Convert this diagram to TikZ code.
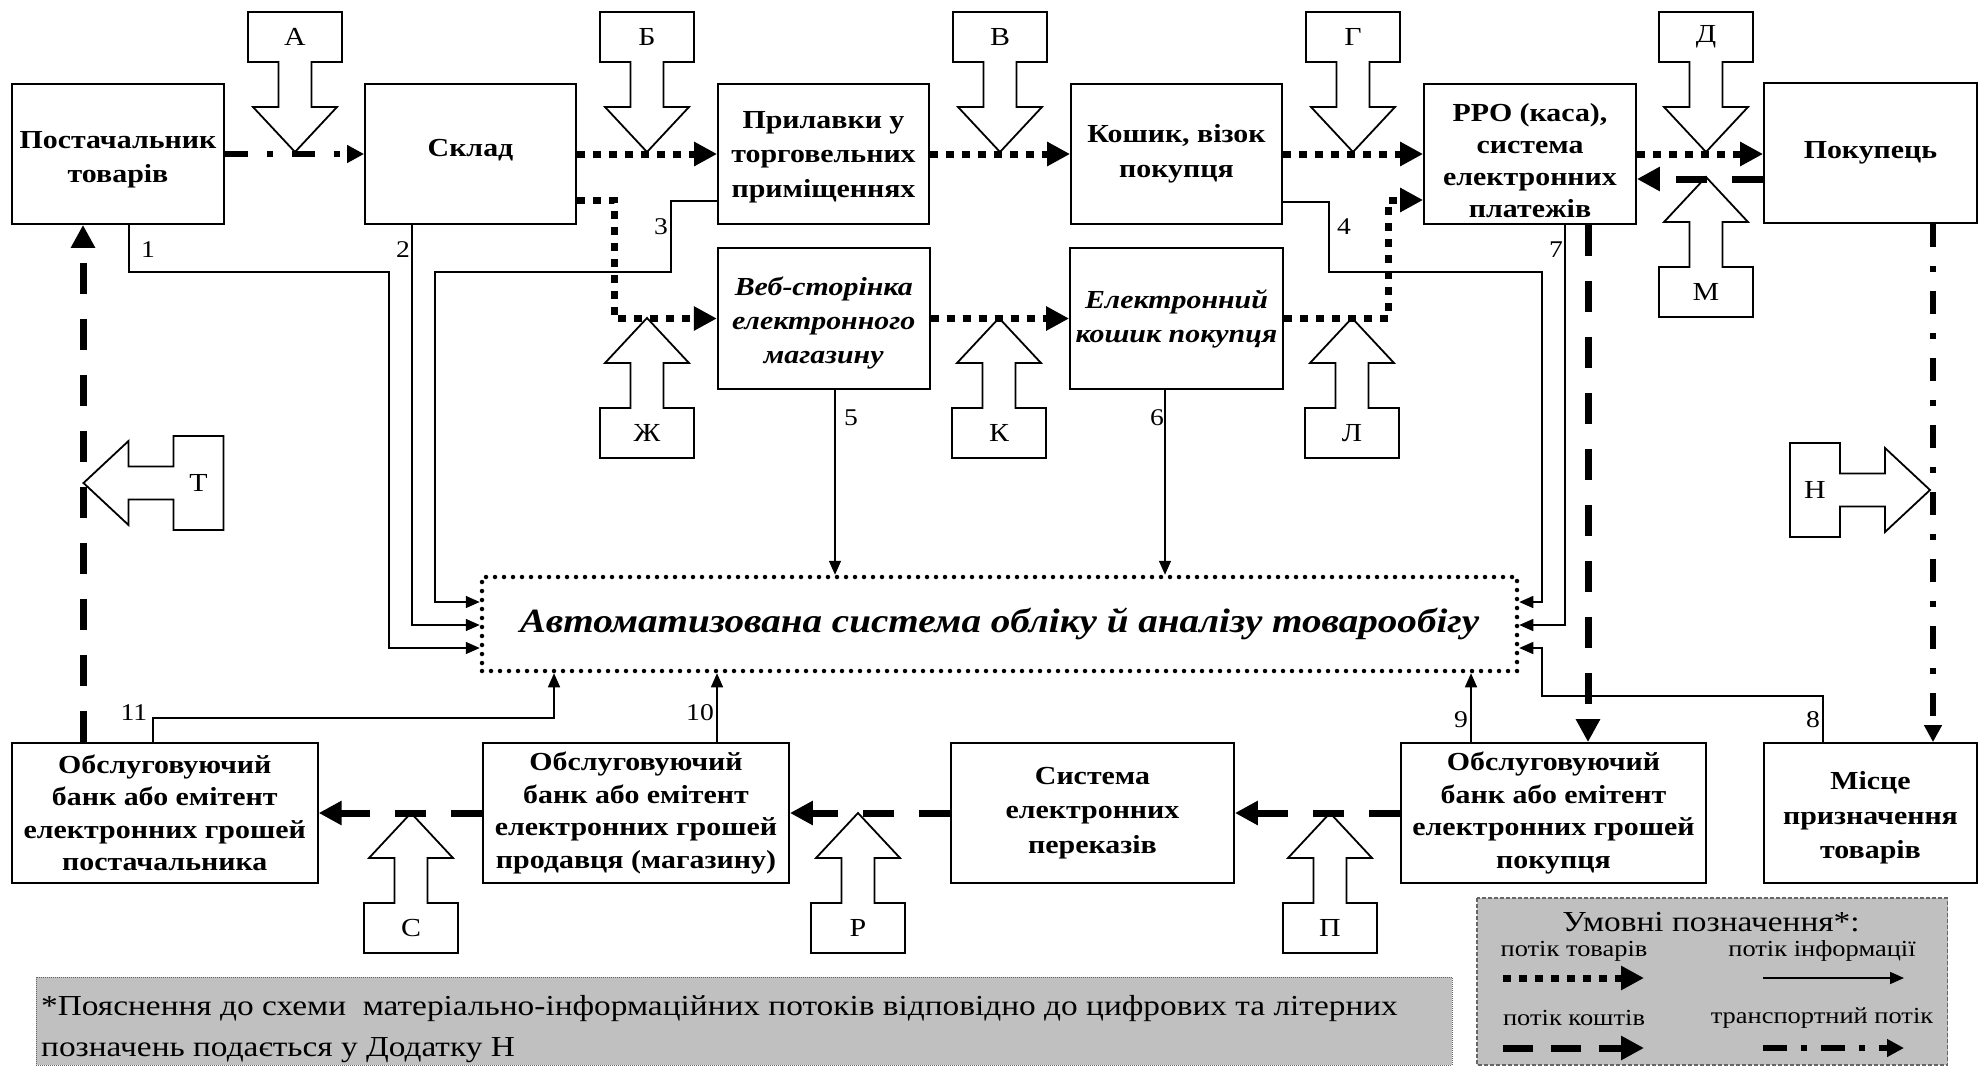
\documentclass[tikz,border=0pt]{standalone}
\usepackage{fontspec}
\setmainfont{Liberation Serif}[FakeStretch=1.15]
\usetikzlibrary{arrows.meta}
\definecolor{panelgrey}{RGB}{192,192,192}

% Block arrow ("gate") with a lettered tail box; tip at (#2,#3), rotated by #4
\newcommand\flowgate[5]{%
  \begin{scope}[shift={(#2,#3)}, rotate=#4]
    \draw[gate] (0,0) -- (42,-45) -- (16.5,-45) -- (16.5,-90) -- (47,-90) -- (47,-140)
      -- (-47,-140) -- (-47,-90) -- (-16.5,-90) -- (-16.5,-45) -- (-42,-45) -- cycle;
    \node[gatelabel] (#1) at (0,-115) {#5};
  \end{scope}}

\begin{document}
\begin{tikzpicture}[x=1pt,y=-1pt,
  box/.style={draw, line width=1.8pt, fill=white, align=center, inner sep=0pt,
    minimum height=140pt, font=\fontsize{26}{34.5}\selectfont\bfseries},
  ibox/.style={box, font=\fontsize{26}{34}\selectfont\bfseries\itshape},
  bankbox/.style={box, font=\fontsize{26}{32.5}\selectfont\bfseries},
  frame/.style={draw, line width=1.8pt, fill=white, inner sep=0pt, minimum height=140pt},
  boxtext/.style={align=center, inner sep=0pt, font=\fontsize{26}{34.5}\selectfont\bfseries},
  mainbox/.style={draw, line width=4.5pt, dash pattern=on 0pt off 9pt, line cap=round,
    minimum width=1035pt, minimum height=94pt, inner sep=0pt,
    font=\fontsize{34}{40}\selectfont\bfseries\itshape},
  gate/.style={draw, line width=1.8pt, fill=white, line join=miter},
  gatelabel/.style={font=\fontsize{26}{26}\selectfont, inner sep=0pt},
  numlabel/.style={font=\fontsize{24}{24}\selectfont, inner sep=0pt},
  goods/.style={line width=7pt, dash pattern=on 8pt off 8pt,
    -{Triangle[length=23pt,width=23pt]}},
  money/.style={line width=7pt, dash pattern=on 31pt off 25pt,
    -{Triangle[length=23pt,width=23pt]}},
  transport/.style={line width=6pt, dash pattern=on 23pt off 19pt on 6pt off 19pt,
    -{Triangle[length=17pt,width=17pt]}},
  info/.style={line width=1.5pt, -{Triangle[length=14pt,width=12pt]}},
  notepanel/.style={fill=panelgrey, draw=black!60, line width=1pt, dash pattern=on 1pt off 1pt},
  legendpanel/.style={fill=panelgrey, draw=black!60, line width=1.2pt, dash pattern=on 4pt off 2pt},
  notetext/.style={font=\fontsize{29}{41}\selectfont, align=left, inner sep=0pt},
  legendtitle/.style={font=\fontsize{29}{29}\selectfont, inner sep=0pt},
  legendtext/.style={font=\fontsize{23}{23}\selectfont, inner sep=0pt}
]
\useasboundingbox (0,0) rectangle (1984,1066);
\fill[white] (0,0) rectangle (1984,1066);

% ---- block arrows with letters
\flowgate{gA}{295}{152}{0}{А}
\flowgate{gB}{647}{152}{0}{Б}
\flowgate{gV}{1000}{152}{0}{В}
\flowgate{gG}{1353}{152}{0}{Г}
\flowgate{gD}{1706}{152}{0}{Д}
\flowgate{gZh}{647}{318}{180}{Ж}
\flowgate{gK}{999}{318}{180}{К}
\flowgate{gL}{1352}{318}{180}{Л}
\flowgate{gM}{1706}{177}{180}{М}
\flowgate{gS}{411}{813}{180}{С}
\flowgate{gR}{858}{813}{180}{Р}
\flowgate{gP}{1330}{813}{180}{П}
\flowgate{gT}{83.5}{483}{-90}{Т}
\flowgate{gN}{1930}{490}{90}{Н}

% ---- top row
\node[frame, minimum width=212pt] (post)  at (118,154)    {};
\node[boxtext] (posttext) at (118,160) {Постачальник\\товарів};
\node[frame, minimum width=211pt] (sklad) at (470.5,154)  {};
\node[boxtext] (skladtext) at (470.5,150) {Склад};
\node[frame, minimum width=211pt] (prylav) at (823.5,154) {};
\node[boxtext] (prylavtext) at (823.5,157) {Прилавки у\\торговельних\\приміщеннях};
\node[box, minimum width=211pt] (koshyk)  at (1176.5,154) {Кошик, візок\\покупця};
\node[frame, minimum width=212pt] (rro)   at (1530,154)   {};
\node[align=center, inner sep=0pt, font=\fontsize{26}{32}\selectfont\bfseries] (rrotext)
  at (1530,161) {РРО (каса),\\система\\електронних\\платежів};
\node[box, minimum width=213pt] (pokup)   at (1870.5,153) {Покупець};

% ---- e-commerce row
\node[frame, minimum width=212pt, minimum height=141pt] (web) at (823.75,318.5) {};
\node[boxtext, font=\fontsize{26}{34}\selectfont\bfseries\itshape] (webtext) at (823.75,322.5) {Веб-сторінка\\електронного\\магазину};
\node[ibox, minimum width=213pt, minimum height=141pt] (ekosh) at (1176.5,318.5) {Електронний\\кошик покупця};

% ---- accounting system
\node[mainbox] (main) at (999.5,624) {Автоматизована система обліку й аналізу товарообігу};

% ---- bottom row
\node[bankbox, minimum width=306pt] (bank1) at (164.75,813) {Обслуговуючий\\банк або емітент\\електронних грошей\\постачальника};
\node[bankbox, minimum width=306pt] (bank2) at (636,813) {Обслуговуючий\\банк або емітент\\електронних грошей\\продавця (магазину)};
\node[box, minimum width=283pt] (sep) at (1092.5,813) {Система\\електронних\\переказів};
\node[bankbox, minimum width=305pt] (bank3) at (1553.5,813) {Обслуговуючий\\банк або емітент\\електронних грошей\\покупця};
\node[frame, minimum width=213pt] (misce) at (1870.5,813) {};
\node[boxtext] (miscetext) at (1870.5,818) {Місце\\призначення\\товарів};

% ---- information flows
\draw[info] (post.south -| 129,0) |- (389,272) |- (main.west |- 0,648);
\draw[info] (sklad.south -| 412,0) |- (main.west |- 0,625);
\draw[info] (prylav.west |- 0,201) -| (671,272) -| (435,602) -- (main.west |- 0,602);
\draw[info] (koshyk.east |- 0,202) -| (1329,272) -| (1542,602) -- (main.east |- 0,602);
\draw[info] (web.south -| 835,0) -- (main.north -| 835,0);
\draw[info] (ekosh.south -| 1165,0) -- (main.north -| 1165,0);
\draw[info] (rro.south -| 1565,0) |- (main.east |- 0,625);
\draw[info] (misce.north -| 1823,0) |- (1542,696) |- (main.east |- 0,648);
\draw[info] (bank3.north -| 1471,0) -- (main.south -| 1471,0);
\draw[info] (bank2.north -| 717,0) -- (main.south -| 717,0);
\draw[info] (bank1.north -| 153,0) |- (554,718) -- (main.south -| 554,0);

\node[numlabel] (n1)  at (148,250)  {1};
\node[numlabel] (n2)  at (403,250)  {2};
\node[numlabel] (n3)  at (661,227)  {3};
\node[numlabel] (n4)  at (1344,227) {4};
\node[numlabel] (n5)  at (851,418)  {5};
\node[numlabel] (n6)  at (1157,418) {6};
\node[numlabel] (n7)  at (1556,250) {7};
\node[numlabel] (n8)  at (1813,720) {8};
\node[numlabel] (n9)  at (1461,720) {9};
\node[numlabel] (n10) at (700,713)  {10};
\node[numlabel] (n11) at (134,713)  {11};

% ---- goods flows
\draw[goods] (sklad.east) -- (prylav.west);
\draw[goods] (prylav.east) -- (koshyk.west);
\draw[goods] (koshyk.east) -- (rro.west);
\draw[goods] (rro.east) -- (rro.east -| pokup.west);
\draw[goods] (sklad.east |- 0,200) -| (614,318.5) -- (web.west);
\draw[goods] (web.east) -- (ekosh.west);
\draw[goods] (ekosh.east) -| (1388,200) -- (rro.west |- 0,200);

% ---- money flows
\draw[money] (pokup.west |- 0,179) -- (rro.east |- 0,179);
\draw[money] (rro.south -| 1588,0) -- (bank3.north -| 1588,0);
\draw[money] (bank3.west) -- (sep.east);
\draw[money] (sep.west) -- (bank2.east);
\draw[money] (bank2.west) -- (bank1.east);
\draw[money] (bank1.north -| 83,0) -- (post.south -| 83,0);

% ---- transport flows
\draw[transport] (post.east) -- (sklad.west);
\draw[transport] (pokup.south -| 1933,0) -- (misce.north -| 1933,0);

% ---- footnote panel
\draw[notepanel] (36,977) rectangle (1452,1065);
\node[notetext, anchor=west] (note) at (41,1029)
  {*Пояснення до схеми\ \ матеріально-інформаційних потоків відповідно до цифрових та літерних\\позначень подається у Додатку Н};

% ---- legend panel
\draw[legendpanel] (1477,898) rectangle (1947.5,1065);
\node[legendtitle] (lgtitle) at (1711,922) {Умовні позначення*:};
\node[legendtext] (lggoods) at (1574,951) {потік товарів};
\node[legendtext] (lginfo) at (1822,951) {потік інформації};
\node[legendtext] (lgmoney) at (1574,1018) {потік коштів};
\node[legendtext] (lgtrans) at (1822,1018) {транспортний потік};
\coordinate (lg1a) at (1503,978);  \coordinate (lg1b) at (1644,978);
\coordinate (lg2a) at (1763,978);  \coordinate (lg2b) at (1904,978);
\coordinate (lg3a) at (1503,1048); \coordinate (lg3b) at (1644,1048);
\coordinate (lg4a) at (1763,1048); \coordinate (lg4b) at (1904,1048);
\draw[goods] (lg1a) -- (lg1b);
\draw[info] (lg2a) -- (lg2b);
\draw[money, dash pattern=on 30pt off 18pt] (lg3a) -- (lg3b);
\draw[transport, dash pattern=on 24pt off 14pt on 6pt off 14pt] (lg4a) -- (lg4b);
\end{tikzpicture}
\end{document}
